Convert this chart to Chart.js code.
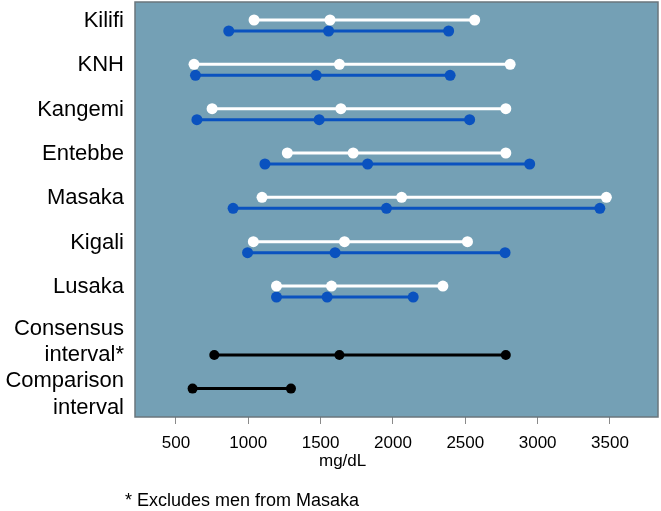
<!DOCTYPE html>
<html>
<head>
<meta charset="utf-8">
<script src="https://cdn.jsdelivr.net/npm/chart.js@4/dist/chart.umd.min.js"></script>
<style>
  html, body { margin: 0; padding: 0; background: #ffffff; }
  #wrap { width: 661px; height: 511px; }
</style>
</head>
<body>
<div id="wrap"><canvas id="c" width="661" height="511"></canvas></div>
<script>
// ---- data ----
const categories = ['Kilifi', 'KNH', 'Kangemi', 'Entebbe', 'Masaka', 'Kigali', 'Lusaka'];
// white series: [lower limit, median, upper limit] per site (mg/dL)
const whiteLow  = [1040,  625,  750, 1270, 1095, 1035, 1195];
const whiteMid  = [1565, 1630, 1640, 1725, 2060, 1665, 1575];
const whiteHigh = [2565, 2810, 2780, 2780, 3475, 2515, 2345];
// blue series
const blueLow   = [ 865,  635,  645, 1115,  895,  995, 1195];
const blueMid   = [1555, 1470, 1490, 1825, 1955, 1600, 1545];
const blueHigh  = [2385, 2395, 2530, 2945, 3430, 2775, 2140];
const consensusLabel = ['Consensus', 'interval*'];
const consensusValues = [765, 1630, 2780];
const comparisonLabel = ['Comparison', 'interval'];
const comparisonValues = [615, 1295];
const xTickValues = [500, 1000, 1500, 2000, 2500, 3000, 3500];
const xTitle = 'mg/dL';
const footnote = '* Excludes men from Masaka';

// ---- layout (row positions on the vertical scale) ----
const rowOffset = 0.124;
const consensusRow = 7.43;
const comparisonRow = 8.19;
const tickLabels = categories.concat([consensusLabel, comparisonLabel]);
const labelRows = categories.map((c, i) => i - 0.1).concat([7.14, 8.32]);

const WHITE = '#ffffff', BLUE = '#0a52bf', BLACK = '#000000';
function seg(vals, y, color, r) {
  return {
    data: vals.map(v => ({ x: v, y: y })),
    showLine: true,
    borderColor: color,
    backgroundColor: color,
    borderWidth: 3,
    pointRadius: r,
    pointHoverRadius: r,
    pointBorderWidth: 0,
    clip: false
  };
}
const datasets = [];
categories.forEach((c, i) => {
  datasets.push(seg([whiteLow[i], whiteMid[i], whiteHigh[i]], i - rowOffset, WHITE, 5.5));
  datasets.push(seg([blueLow[i], blueMid[i], blueHigh[i]], i + rowOffset, BLUE, 5.5));
});
datasets.push(seg(consensusValues, consensusRow, BLACK, 5));
datasets.push(seg(comparisonValues, comparisonRow, BLACK, 5));

const areaPlugin = {
  id: 'area',
  beforeDatasetsDraw(chart) {
    const { ctx, chartArea: a } = chart;
    ctx.save();
    ctx.fillStyle = '#74a0b5';
    ctx.fillRect(a.left, a.top, a.right - a.left, a.bottom - a.top);
    ctx.strokeStyle = '#6a767c';
    ctx.lineWidth = 1.5;
    ctx.strokeRect(a.left, a.top, a.right - a.left, a.bottom - a.top);
    ctx.restore();
  },
  afterDraw(chart) {
    const { ctx, chartArea: a } = chart;
    ctx.save();
    ctx.fillStyle = '#000000';
    ctx.font = '17px "Liberation Sans", Arial, sans-serif';
    ctx.textAlign = 'center';
    ctx.textBaseline = 'middle';
    ctx.fillText(xTitle, a.left + 0.397 * (a.right - a.left), 461);
    ctx.textAlign = 'left';
    ctx.font = '18px "Liberation Sans", Arial, sans-serif';
    ctx.fillText(footnote, 125, 501);
    ctx.restore();
  }
};

Chart.defaults.font.family = '"Liberation Sans", Arial, sans-serif';
Chart.defaults.color = '#000000';

new Chart(document.getElementById('c'), {
  type: 'scatter',
  data: { datasets },
  options: {
    responsive: false,
    animation: false,
    devicePixelRatio: 1,
    layout: { autoPadding: false, padding: { left: 0, right: 3, top: 2, bottom: 0 } },
    plugins: { legend: { display: false }, tooltip: { enabled: false } },
    scales: {
      x: {
        type: 'linear',
        min: 217,
        max: 3832,
        afterBuildTicks(scale) { scale.ticks = xTickValues.map(v => ({ value: v })); },
        afterFit(scale) { scale.height = 94; scale.paddingLeft = 0; scale.paddingRight = 0; },
        grid: { drawOnChartArea: false, drawTicks: true, tickLength: 7, color: '#8a8a8a' },
        border: { display: false },
        ticks: { font: { size: 17 }, padding: 9, autoSkip: false, maxRotation: 0,
                 callback: v => String(v) }
      },
      y: {
        type: 'linear',
        reverse: true,
        min: -0.53,
        max: 8.83,
        afterBuildTicks(scale) { scale.ticks = labelRows.map(v => ({ value: v })); },
        afterFit(scale) { scale.width = 135; scale.paddingTop = 0; scale.paddingBottom = 0; },
        grid: { display: false, drawTicks: false },
        border: { display: false },
        ticks: {
          font: { size: 22, lineHeight: 1.2 },
          padding: 11,
          autoSkip: false,
          callback: (v, i) => tickLabels[i]
        }
      }
    }
  },
  plugins: [areaPlugin]
});
</script>
</body>
</html>
